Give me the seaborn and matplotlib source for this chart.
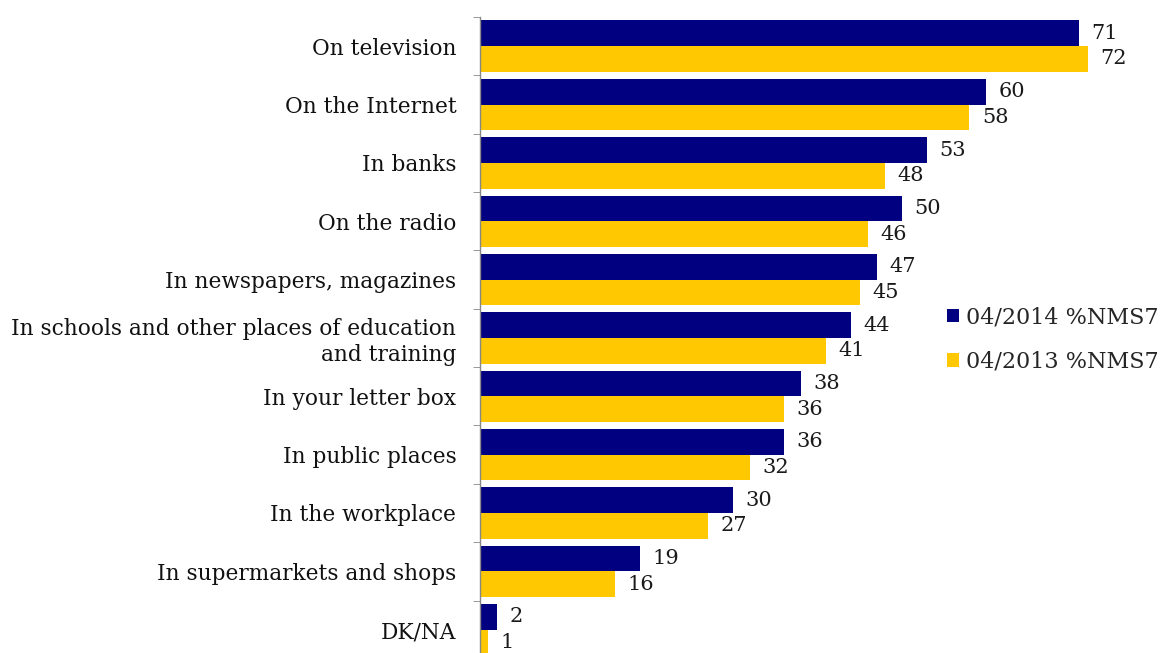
import numpy as np
import pandas as pd
import seaborn as sns
import matplotlib.pyplot as plt

categories = [
    "On television",
    "On the Internet",
    "In banks",
    "On the radio",
    "In newspapers, magazines",
    "In schools and other places of education\nand training",
    "In your letter box",
    "In public places",
    "In the workplace",
    "In supermarkets and shops",
    "DK/NA",
]
vals_2014 = [71, 60, 53, 50, 47, 44, 38, 36, 30, 19, 2]
vals_2013 = [72, 58, 48, 46, 45, 41, 36, 32, 27, 16, 1]
series = ["04/2014 %NMS7", "04/2013 %NMS7"]

df = pd.DataFrame({
    "category": categories * 2,
    "value": vals_2014 + vals_2013,
    "series": [series[0]] * len(categories) + [series[1]] * len(categories),
})

sns.set_style("white")
plt.rcParams["font.family"] = ["DejaVu Serif"]

fig = plt.figure(figsize=(11.62, 6.53), dpi=100)
ax = fig.add_axes([0.413, -0.009, 0.581, 0.983])

sns.barplot(data=df, y="category", x="value", hue="series", orient="h",
            palette=["#000080", "#FFC800"], saturation=1, width=0.88,
            linewidth=0, ax=ax, legend=True)

for cont in ax.containers:
    ax.bar_label(cont, padding=9, fontsize=15, color="#1a1a1a")

ax.set_xlim(0, 80)
ax.set_ylim(len(categories) - 0.5, -0.5)
ax.set_xlabel("")
ax.set_ylabel("")
ax.set_xticks([])
for s in ["top", "right", "bottom"]:
    ax.spines[s].set_visible(False)
ax.spines["left"].set_color("#888888")
ax.spines["left"].set_linewidth(1)

ax.tick_params(axis="y", which="major", length=0, pad=17, labelsize=15.6,
               labelcolor="#111111")
ax.set_yticks(np.arange(-0.5, len(categories), 1), minor=True)
ax.tick_params(axis="y", which="minor", length=5, color="#888888", left=True)

ax.legend(loc="center left", bbox_to_anchor=(0.815, 0.48),
          bbox_transform=fig.transFigure, frameon=False, fontsize=16,
          handlelength=0.55, handleheight=0.55, handletextpad=0.3,
          labelspacing=1.0, borderaxespad=0, borderpad=0)

fig.savefig("out.png", dpi=100)
plt.close(fig)
